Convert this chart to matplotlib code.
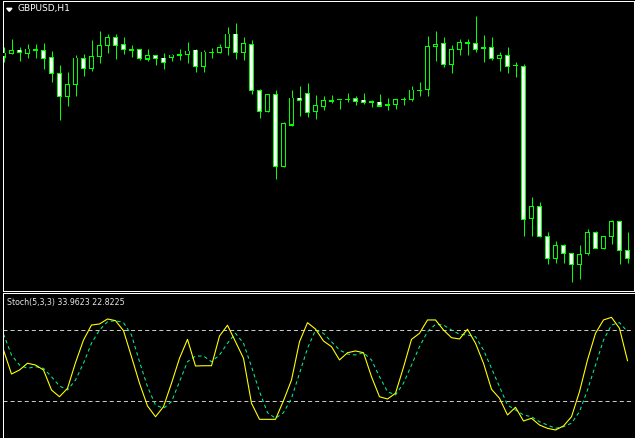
import numpy as np
import matplotlib.pyplot as plt
from matplotlib.patches import Polygon

plt.rcParams['lines.scale_dashes'] = False

title = "GBPUSD,H1"
stoch_label = "Stoch(5,3,3) 33.9623 22.8225"

# GBPUSD H1 candles, left to right
open_ = np.array([
    1.29430, 1.29463, 1.29500, 1.29463, 1.29505, 1.29497, 1.29427, 1.29267, 1.29037, 1.29157,
    1.29417, 1.29313, 1.29437, 1.29543, 1.29627, 1.29550, 1.29505, 1.29507, 1.29410, 1.29447,
    1.29420, 1.29423, 1.29450, 1.29453, 1.29500, 1.29333, 1.29474, 1.29473, 1.29523, 1.29660,
    1.29473, 1.29557, 1.29097, 1.28883, 1.29057, 1.28333, 1.28750, 1.29020, 1.29067, 1.28883,
    1.28933, 1.28992, 1.29003, 1.29007, 1.29018, 1.29000, 1.28981, 1.28980, 1.28951, 1.28952,
    1.29002, 1.29002, 1.29092, 1.29103, 1.29537, 1.29567, 1.29353, 1.29507, 1.29569, 1.29567,
    1.29521, 1.29527, 1.29417, 1.29447, 1.29344, 1.29337, 1.27813, 1.27937, 1.27637, 1.27417,
    1.27547, 1.27467, 1.27357, 1.27467, 1.27677, 1.27517, 1.27637, 1.27787, 1.27497])
high = np.array([
    1.29530, 1.29610, 1.29530, 1.29560, 1.29560, 1.29570, 1.29490, 1.29347, 1.29280, 1.29450,
    1.29460, 1.29600, 1.29690, 1.29660, 1.29660, 1.29630, 1.29550, 1.29510, 1.29510, 1.29450,
    1.29470, 1.29463, 1.29510, 1.29580, 1.29513, 1.29500, 1.29520, 1.29560, 1.29733, 1.29770,
    1.29630, 1.29600, 1.29110, 1.29057, 1.29100, 1.28780, 1.29100, 1.29140, 1.29170, 1.29050,
    1.29040, 1.29050, 1.29005, 1.29070, 1.29040, 1.29070, 1.29000, 1.29060, 1.29020, 1.29010,
    1.29030, 1.29140, 1.29180, 1.29640, 1.29690, 1.29630, 1.29547, 1.29610, 1.29610, 1.29840,
    1.29650, 1.29630, 1.29480, 1.29527, 1.29377, 1.29357, 1.28030, 1.27977, 1.27677, 1.27587,
    1.27557, 1.27467, 1.27547, 1.27707, 1.27687, 1.27637, 1.27797, 1.27787, 1.27677])
low = np.array([
    1.29380, 1.29460, 1.29393, 1.29423, 1.29423, 1.29313, 1.29183, 1.28803, 1.28943, 1.29043,
    1.29243, 1.29293, 1.29373, 1.29470, 1.29413, 1.29457, 1.29430, 1.29403, 1.29390, 1.29350,
    1.29313, 1.29393, 1.29397, 1.29370, 1.29280, 1.29280, 1.29420, 1.29473, 1.29450, 1.29413,
    1.29400, 1.29063, 1.28823, 1.28883, 1.28213, 1.28333, 1.28740, 1.28840, 1.28830, 1.28810,
    1.28900, 1.28970, 1.28910, 1.28980, 1.28950, 1.28960, 1.28930, 1.28940, 1.28900, 1.28910,
    1.28950, 1.28992, 1.29040, 1.29042, 1.29393, 1.29333, 1.29273, 1.29453, 1.29453, 1.29477,
    1.29383, 1.29397, 1.29293, 1.29273, 1.29227, 1.27643, 1.27643, 1.27627, 1.27357, 1.27367,
    1.27373, 1.27177, 1.27207, 1.27447, 1.27517, 1.27507, 1.27557, 1.27357, 1.27367])
close = np.array([
    1.29470, 1.29497, 1.29477, 1.29510, 1.29495, 1.29417, 1.29267, 1.29037, 1.29157, 1.29420,
    1.29317, 1.29437, 1.29547, 1.29627, 1.29543, 1.29503, 1.29500, 1.29413, 1.29447, 1.29413,
    1.29373, 1.29450, 1.29455, 1.29490, 1.29333, 1.29480, 1.29476, 1.29527, 1.29660, 1.29473,
    1.29567, 1.29093, 1.28883, 1.29057, 1.28333, 1.28760, 1.29020, 1.28993, 1.28873, 1.28940,
    1.28990, 1.28990, 1.29001, 1.29005, 1.28983, 1.28973, 1.28979, 1.28940, 1.28949, 1.29002,
    1.29003, 1.29100, 1.29094, 1.29537, 1.29557, 1.29353, 1.29507, 1.29577, 1.29571, 1.29507,
    1.29519, 1.29417, 1.29447, 1.29337, 1.29342, 1.27807, 1.27937, 1.27637, 1.27417, 1.27547,
    1.27467, 1.27357, 1.27457, 1.27677, 1.27517, 1.27637, 1.27787, 1.27497, 1.27417])

# Stochastic (5,3,3): %K main and %D signal
stoch_main = np.array([
    63.1, 42.8, 46.2, 51.9, 50.4, 46.2, 29.3, 23.6, 30.7, 52.4,
    71.5, 84.2, 85.1, 89.3, 87.9, 79.4, 57.4, 35.0, 15.8, 6.7,
    15.2, 35.0, 56.1, 72.1, 49.6, 49.8, 49.8, 74.9, 84.0, 70.1,
    56.1, 18.1, 4.5, 4.5, 4.5, 20.3, 37.7, 70.1, 86.2, 80.8,
    70.7, 65.9, 54.7, 60.8, 62.3, 60.8, 40.5, 23.6, 21.7, 26.5,
    48.5, 72.1, 77.2, 88.5, 88.5, 80.0, 73.5, 72.4, 80.6, 68.8,
    51.9, 29.9, 22.3, 8.2, 14.7, 3.1, 5.4, -0.3, -3.1, -4.5,
    -1.1, 6.7, 27.9, 54.7, 77.2, 88.5, 90.7, 81.4, 54.1])
stoch_signal = np.array([
    76.6, 58.9, 50.4, 47.6, 49.0, 47.6, 40.5, 32.7, 29.3, 37.7,
    51.9, 68.8, 80.0, 87.0, 87.9, 86.2, 75.8, 53.2, 32.1, 16.6,
    13.8, 19.4, 36.3, 53.2, 58.0, 58.0, 53.2, 58.9, 68.8, 77.2,
    68.8, 49.0, 27.9, 10.1, 5.4, 10.1, 22.3, 43.4, 64.5, 80.0,
    77.2, 70.1, 63.1, 59.7, 58.9, 60.8, 54.7, 40.5, 27.9, 25.1,
    35.0, 50.4, 65.9, 78.6, 84.8, 84.2, 80.0, 76.4, 75.8, 74.3,
    63.1, 47.6, 32.1, 16.6, 12.4, 8.2, 6.7, 2.5, -0.3, -3.1,
    -1.7, 1.2, 11.0, 29.3, 50.4, 71.5, 84.2, 86.2, 78.6])
levels = [80, 20]

W, H = 635, 438
fig = plt.figure(figsize=(W / 100, H / 100), dpi=100, facecolor='black')

# pane edges sit on half pixels so the 1px frame lines stay crisp
ax = fig.add_axes([2.5 / W, (H - 290.5) / H, 631 / W, 289 / H], facecolor='black')
ax2 = fig.add_axes([2.5 / W, 0, 631 / W, (H - 292.5) / H], facecolor='black')

ylo, yhi = 1.27095, 1.29985
xlo, xhi = -0.125, 78.75
py = (yhi - ylo) / 289  # price per pixel

x = np.arange(len(open_))
up = close >= open_
lo = np.minimum(open_, close)
hi = np.maximum(open_, close)

green = '#00ff00'
ax.vlines(x, low, high, color=green, lw=0.72, zorder=1)
# outer green box, then the black/white fill inside it
ax.bar(x, hi - lo + py, bottom=lo - py / 2, width=5 / 8, color=green,
       linewidth=0, zorder=2)
inner = np.clip(hi - lo - py, 0, None)
ax.bar(x, inner, bottom=lo + py / 2, width=3 / 8,
       color=np.where(up, 'black', 'white'), linewidth=0, zorder=3)
ax.set_xlim(xlo, xhi)
ax.set_ylim(ylo, yhi)

for lv in levels:
    ax2.axhline(lv, color='#c8c8c8', lw=0.72, dashes=(2.9, 2.2))
ax2.plot(x, stoch_signal, color='#00f090', lw=0.75, dashes=(2.5, 2.2))
ax2.plot(x, stoch_main, color='#ffff00', lw=0.8)
ax2.set_xlim(xlo, xhi)
ax2.set_ylim(-11.27, 111.69)

for a in (ax, ax2):
    a.set_xticks([])
    a.set_yticks([])
    for s in a.spines.values():
        s.set_color('white')
        s.set_linewidth(0.72)
ax2.spines['bottom'].set_visible(False)
ax2.spines['right'].set_visible(False)

fig.add_artist(Polygon([[6.7 / W, 1 - 8.3 / H], [12 / W, 1 - 8.3 / H], [9.3 / W, 1 - 11.3 / H]],
                       closed=True, color='white', transform=fig.transFigure))
fig.text(18 / W, 1 - 9 / H, title, color='white', fontsize=6.5, va='center')
fig.text(7 / W, 1 - 302.5 / H, stoch_label, color='#e6e6e6', fontsize=5.7, va='center')

fig.savefig('out.png', dpi=100, facecolor='black')
